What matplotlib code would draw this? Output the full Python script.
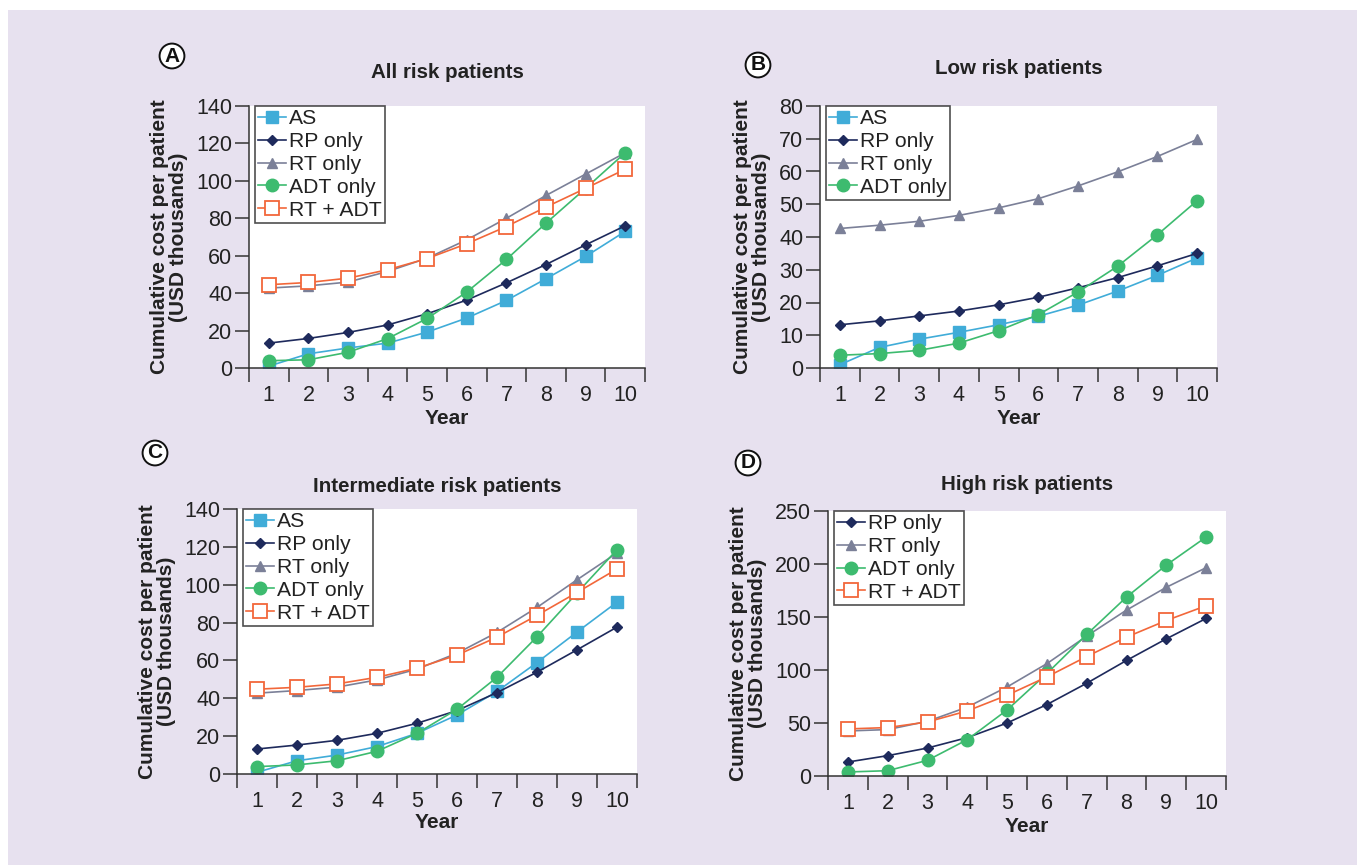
import matplotlib.pyplot as plt
from matplotlib.patches import Rectangle

plt.rcParams['font.family'] = ['Liberation Sans', 'DejaVu Sans']
plt.rcParams['font.size'] = 15

years = list(range(1, 11))

# Panel A - all risk patients
all_as = [1, 7.6, 10.7, 13.3, 19.2, 26.7, 36.1, 47.7, 59.6, 73]
all_rp = [13.3, 15.8, 19, 23, 29, 36.3, 45.5, 55.3, 65.8, 76]
all_rt = [42.7, 43.9, 45.9, 51.6, 58.7, 68.5, 80, 92.2, 103.6, 115]
all_adt = [3.9, 4.4, 8.4, 15.7, 26.5, 40.6, 58, 77.4, 96, 115]
all_rtadt = [44.5, 45.7, 48, 52.5, 58.5, 66.4, 75.6, 86, 96, 106.2]

# Panel B - low risk patients
low_as = [1, 6.3, 8.8, 10.9, 13.2, 15.8, 19.2, 23.5, 28.3, 33.6]
low_rp = [13.2, 14.4, 15.9, 17.4, 19.3, 21.6, 24.5, 27.6, 31.2, 35]
low_rt = [42.6, 43.6, 44.8, 46.6, 48.9, 51.7, 55.6, 59.9, 64.6, 69.8]
low_adt = [3.9, 4.4, 5.4, 7.6, 11.4, 16.3, 23.2, 31.1, 40.7, 51.1]

# Panel C - intermediate risk patients
int_as = [0.9, 7, 10, 14.5, 21.5, 31.2, 43.6, 58.9, 75, 90.8]
int_rp = [13.2, 15.3, 17.8, 21.5, 26.8, 33.5, 43, 53.8, 65.6, 77.6]
int_rt = [42.7, 44.1, 45.9, 49.7, 55.4, 63.8, 74.8, 88, 102.6, 116.8]
int_adt = [3.9, 4.8, 7, 12, 21.5, 34.2, 51.1, 72.5, 95.6, 118.5]
int_rtadt = [44.8, 45.8, 47.6, 51.1, 55.9, 62.8, 72.3, 83.8, 95.9, 108.3]

# Panel D - high risk patients
high_rp = [13.2, 19.2, 26.4, 36.2, 50, 67.4, 87.5, 109, 129.4, 148.6]
high_rt = [42.5, 43.8, 51.6, 65, 84, 106, 132, 156.5, 178, 196.5]
high_adt = [3.8, 5, 14.8, 34.3, 62.3, 96.7, 133.5, 168.8, 199, 225.4]
high_rtadt = [44.4, 45.7, 51, 61.4, 76.2, 93.5, 112.7, 131, 146.7, 160.6]

styles = {
    'AS': dict(color='#40ACD8', marker='s', ms=9, mfc='#40ACD8', mec='#40ACD8'),
    'RP only': dict(color='#1E2A5C', marker='D', ms=5.5, mfc='#1E2A5C', mec='#1E2A5C'),
    'RT only': dict(color='#7B8098', marker='^', ms=7, mfc='#7B8098', mec='#7B8098'),
    'ADT only': dict(color='#3DBB6F', marker='o', ms=9, mfc='#3DBB6F', mec='#3DBB6F'),
    'RT + ADT': dict(color='#F2673A', marker='s', ms=9.5, mfc='white', mec='#F2673A', mew=1.3),
}

W, H = 1357, 865
fig = plt.figure(figsize=(W / 100, H / 100), dpi=100)
fig.patch.set_facecolor('white')
fig.patches.append(Rectangle((8 / W, 0), 1, (H - 10) / H, transform=fig.transFigure,
                             facecolor='#E7E1EF', edgecolor='none', zorder=-10))


def panel(box, series, ymax, ystep, title, letter, letter_xy, title_y, year_y):
    left, top, right, bottom = box
    ax = fig.add_axes([left / W, (H - bottom) / H, (right - left) / W, (bottom - top) / H])
    ax.set_facecolor('white')
    for name, vals in series:
        ax.plot(years, vals, lw=1.2, label=name, **styles[name])
    ax.set_xlim(0.5, 10.5)
    ax.set_ylim(0, ymax)
    ax.set_yticks(range(0, ymax + 1, ystep))
    # ticks sit between the years, labels sit on them
    ax.set_xticks([x + 0.5 for x in range(0, 11)])
    ax.set_xticklabels([])
    ax.set_xticks(years, minor=True)
    ax.set_xticklabels([str(y) for y in years], minor=True)
    ax.tick_params(axis='x', which='major', direction='out', length=10, width=1.1, color='#333333')
    ax.tick_params(axis='x', which='minor', length=0, pad=12, labelsize=15.5, labelcolor='#222222')
    ax.tick_params(axis='y', direction='out', length=10, width=1.1, color='#333333',
                   labelsize=15.5, labelcolor='#222222', pad=2)
    for s in ['top', 'right']:
        ax.spines[s].set_visible(False)
    for s in ['left', 'bottom']:
        ax.spines[s].set_color('#333333')
        ax.spines[s].set_linewidth(1.1)
    ax.set_ylabel('Cumulative cost per patient\n(USD thousands)', fontweight='bold',
                  fontsize=15, color='#222222', linespacing=1.0, labelpad=6)
    leg = ax.legend(loc='upper left', bbox_to_anchor=(0.015, 1.0), frameon=True, fancybox=False,
                    edgecolor='#222222', handlelength=1.3, handletextpad=0.15,
                    labelspacing=0.18, borderpad=0.16, borderaxespad=0, fontsize=15.2)
    leg.get_frame().set_linewidth(1.2)
    for t in leg.get_texts():
        t.set_color('#222222')
    cx = (left + right) / 2
    fig.text(cx / W, 1 - title_y / H, title, ha='center', va='center',
             fontsize=14.8, fontweight='bold', color='#222222')
    fig.text(cx / W, 1 - year_y / H, 'Year', ha='center', va='center',
             fontsize=15, fontweight='bold', color='#222222')
    fig.text(letter_xy[0] / W, 1 - letter_xy[1] / H, letter, ha='center', va='center',
             fontsize=15, fontweight='bold', color='#111111',
             bbox=dict(boxstyle='circle,pad=0.14', facecolor='white', edgecolor='#111111', lw=1.4))
    return ax


panel((249, 106, 645, 368),
      [('AS', all_as), ('RP only', all_rp), ('RT only', all_rt), ('ADT only', all_adt), ('RT + ADT', all_rtadt)],
      140, 20, 'All risk patients', 'A', (172, 56), 73, 419)
panel((820, 106, 1217, 368),
      [('AS', low_as), ('RP only', low_rp), ('RT only', low_rt), ('ADT only', low_adt)],
      80, 10, 'Low risk patients', 'B', (758, 65), 68, 419)
panel((237, 509, 637, 774),
      [('AS', int_as), ('RP only', int_rp), ('RT only', int_rt), ('ADT only', int_adt), ('RT + ADT', int_rtadt)],
      140, 20, 'Intermediate risk patients', 'C', (155, 453), 487, 823)
panel((828, 511, 1226, 776),
      [('RP only', high_rp), ('RT only', high_rt), ('ADT only', high_adt), ('RT + ADT', high_rtadt)],
      250, 50, 'High risk patients', 'D', (748, 463), 485, 827)

fig.savefig('out.png', dpi=100, facecolor=fig.get_facecolor())
